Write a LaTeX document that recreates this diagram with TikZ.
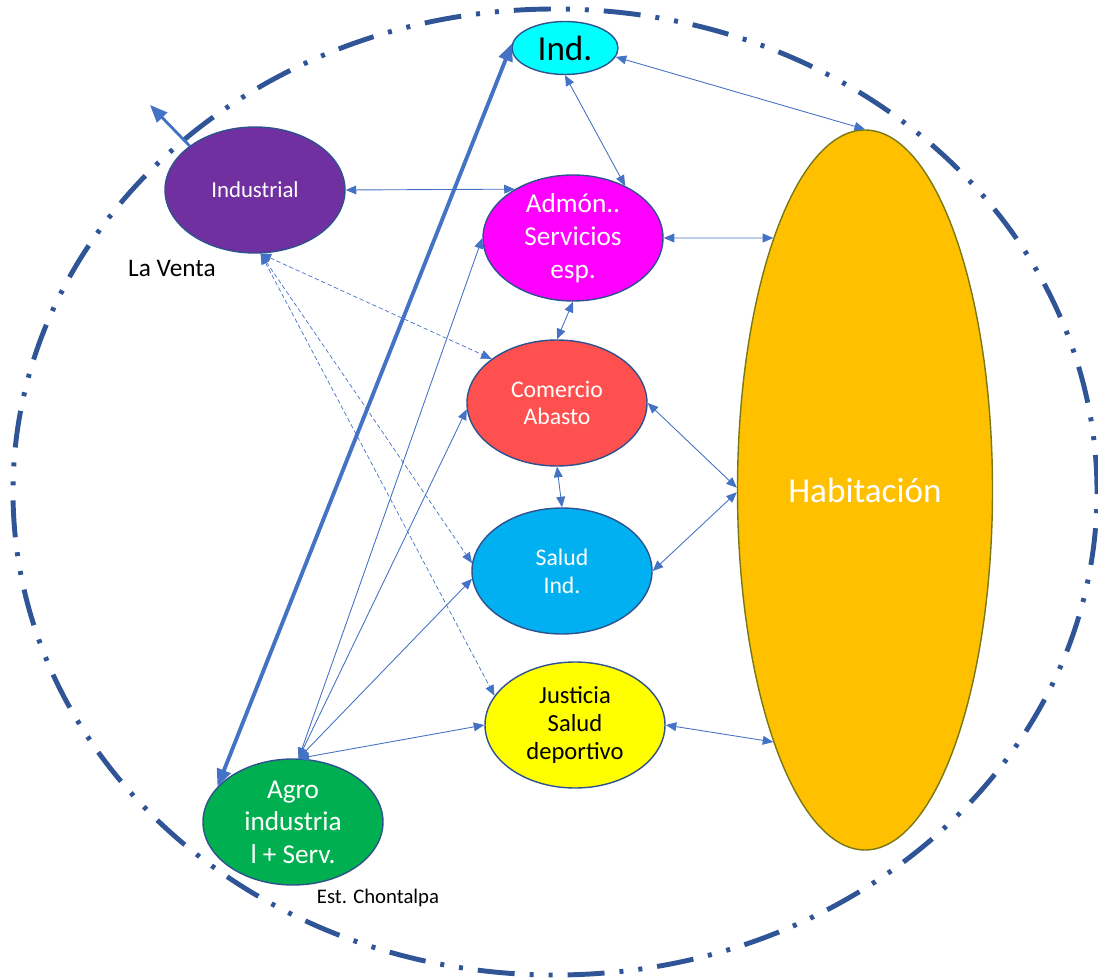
\documentclass[tikz,border=0pt]{standalone}
\usepackage{fontspec}
\setmainfont{Carlito}
\usetikzlibrary{arrows.meta, positioning, shapes.geometric}

\definecolor{ringblue}{RGB}{47,85,151}
\definecolor{linkblue}{RGB}{68,114,196}
\definecolor{rimblue}{RGB}{47,82,143}
\definecolor{indcol}{RGB}{112,48,160}
\definecolor{cyancol}{RGB}{0,255,255}
\definecolor{admcol}{RGB}{255,0,255}
\definecolor{comcol}{RGB}{255,80,80}
\definecolor{salcol}{RGB}{0,176,240}
\definecolor{juscol}{RGB}{255,255,0}
\definecolor{agrocol}{RGB}{0,176,80}
\definecolor{habcol}{RGB}{255,192,0}
\definecolor{habrim}{RGB}{120,120,20}

\tikzset{
  zone/.style={ellipse, draw=rimblue, line width=0.8pt, inner sep=0pt,
    minimum width=3.6cm, minimum height=2.52cm, align=center, text=white},
  link/.style={color=linkblue, line width=0.5pt,
    >={Triangle[length=6pt,width=5pt]}},
  heavy/.style={color=linkblue, line width=2.2pt,
    >={Triangle[length=10pt,width=8pt]}},
}

\begin{document}
\begin{tikzpicture}[node distance=3.3cm, on grid, auto]
    \useasboundingbox (0,0) rectangle (21.96,-19.58);
    \draw[ringblue, line width=2.8pt,
        dash pattern=on 0.74cm off 0.3cm on 0.08cm off 0.3cm on 0.08cm off 0.3cm]
        (11.10,-9.84) ellipse (10.84cm and 9.66cm);

    \node[zone, fill=cyancol, text=black, minimum width=2.12cm, minimum height=1.06cm,
        font=\fontsize{20}{24}\selectfont] (ind) at (11.30,-0.96) {Ind.};
    \node[zone, fill=admcol, font=\fontsize{15.5}{18.7}\selectfont] (adm)
        [below=3.8cm of ind, xshift=0.16cm] {Admón..\\Servicios\\esp.};
    \node[zone, fill=comcol, font=\fontsize{13.5}{15}\selectfont] (com)
        [below=3.3cm of adm, xshift=-0.32cm] {Comercio\\Abasto};
    \node[zone, fill=salcol, font=\fontsize{13.5}{15.8}\selectfont] (sal)
        [below=3.36cm of com, xshift=0.1cm] {Salud\\Ind.};
    \node[zone, fill=juscol, text=black, font=\fontsize{14}{16.2}\selectfont] (jus)
        [below=3.08cm of sal, xshift=0.26cm] {Justicia\\Salud\\deportivo};
    \node[zone, fill=habcol, draw=habrim, minimum width=5.1cm, minimum height=14.4cm,
        font=\fontsize{20}{24}\selectfont] (hab) at (17.30,-9.80) {Habitación};
    \node[zone, fill=indcol, font=\fontsize{13}{15}\selectfont] (indus) at (5.10,-3.80) {Industrial};
    \node[zone, fill=agrocol, font=\fontsize{15.5}{18.5}\selectfont] (agro) at (5.86,-16.44)
        {Agro\\industria\\l + Serv.};

    \node[font=\fontsize{14.4}{17}\selectfont] (venta) at (3.44,-5.36) {La Venta};
    \node[font=\fontsize{11.8}{14}\selectfont] (chontalpa) at (7.56,-17.96) {Est. Chontalpa};

    \coordinate (exit) at (3.0,-2.1);
    \draw[heavy, line width=1.6pt, ->] (indus.146) -- (exit);
    \draw[heavy, <->] (agro.155) -- (ind.175);

    \path[link, <->]
        (indus.east) edge (adm.140)
        (ind.south) edge (adm.45)
        (ind.-10) edge (hab.north)
        (adm.east) edge (hab.110)
        (adm.south) edge (com.north)
        (com.east) edge (hab.179)
        (com.south) edge (sal.north)
        (sal.east) edge (hab.181)
        (jus.east) edge (hab.250)
        (agro.85) edge (adm.west)
            edge (com.184)
            edge (sal.185)
            edge (jus.west);
    \path[link, line width=0.4pt, dash pattern=on 2.5pt off 1.5pt, <->]
        (indus.-85) edge (com.146)
            edge (sal.175)
            edge (jus.160);
\end{tikzpicture}
\end{document}
